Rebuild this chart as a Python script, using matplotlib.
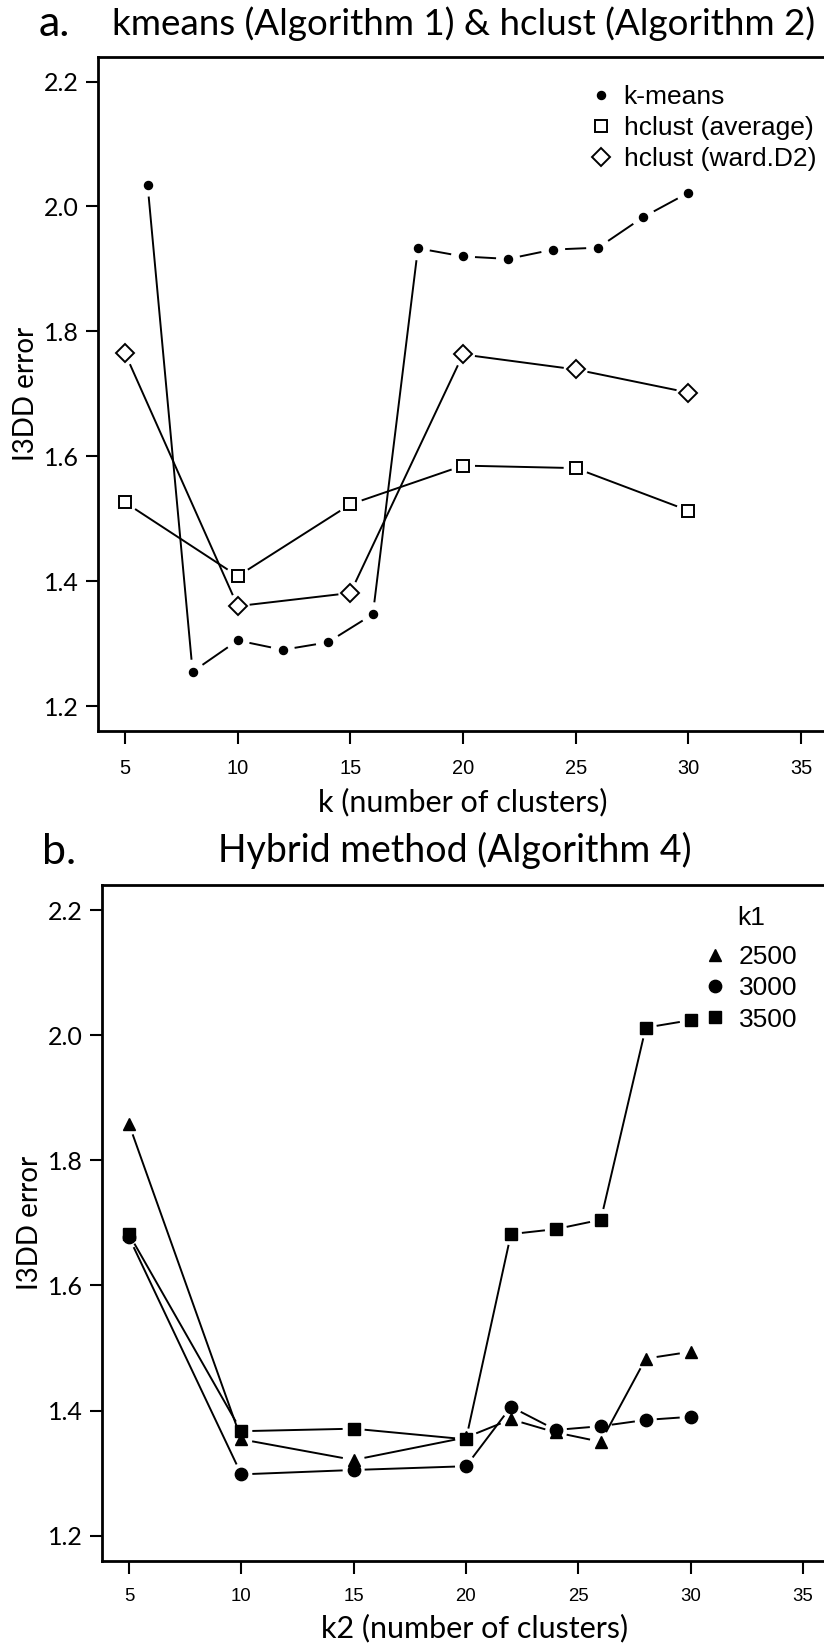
import numpy as np
import matplotlib
matplotlib.use("Agg")
import matplotlib.pyplot as plt
from matplotlib.lines import Line2D

# panel a: kmeans & hclust
k_kmeans = [6, 8, 10, 12, 14, 16, 18, 20, 22, 24, 26, 28, 30]
err_kmeans = [2.035, 1.255, 1.305, 1.290, 1.302, 1.347, 1.933, 1.920, 1.916, 1.931, 1.934, 1.983, 2.022]
k_hclust = [5, 10, 15, 20, 25, 30]
err_average = [1.526, 1.408, 1.523, 1.585, 1.581, 1.513]
err_ward = [1.765, 1.360, 1.381, 1.763, 1.739, 1.702]

# panel b: hybrid method
k2 = [5, 10, 15, 20, 22, 24, 26, 28, 30]
err_2500 = [1.858, 1.354, 1.321, 1.357, 1.386, 1.365, 1.350, 1.483, 1.494]
err_3000 = [1.677, 1.298, 1.305, 1.311, 1.406, 1.369, 1.375, 1.385, 1.390]
err_3500 = [1.682, 1.367, 1.371, 1.354, 1.682, 1.690, 1.705, 2.012, 2.024]

xticks = [5, 10, 15, 20, 25, 30, 35]
yticks = [1.2, 1.4, 1.6, 1.8, 2.0, 2.2]

W, H = 824, 1644
fig = plt.figure(figsize=(W / 100, H / 100), dpi=100)

LBL = "Lato"
ARIAL = "Liberation Sans"


def type_b(ax, x, y, gap, **kw):
    # R-style type="b": line segments broken around each point
    pts = ax.transData.transform(np.column_stack([x, y]))
    inv = ax.transData.inverted()
    for p0, p1 in zip(pts[:-1], pts[1:]):
        d = p1 - p0
        L = np.hypot(*d)
        if L <= 2 * gap:
            continue
        u = d / L
        seg = inv.transform(np.array([p0 + u * gap, p1 - u * gap]))
        ax.plot(seg[:, 0], seg[:, 1], color="black", lw=1.4, solid_capstyle="butt", **kw)


def setup(ax, xlabel, xtick_size, xlab_y, xlab_x=0.5):
    ax.set_xlim(3.8, 36.2)
    ax.set_ylim(1.16, 2.24)
    ax.set_xticks(xticks)
    ax.set_yticks(yticks)
    ax.set_yticklabels([f"{v:.1f}" for v in yticks])
    ax.spines["right"].set_visible(False)
    for s in ["left", "bottom", "top"]:
        ax.spines[s].set_linewidth(2.0)
    ax.tick_params(axis="both", direction="out", length=9, width=1.5)
    ax.tick_params(axis="y", labelsize=18, pad=5, labelfontfamily=LBL)
    ax.tick_params(axis="x", labelsize=xtick_size, pad=11, labelfontfamily=ARIAL)
    ax.set_ylabel("I3DD error", fontsize=20, family=LBL, va="center")
    ax.yaxis.set_label_coords(-0.099, 0.5)
    ax.set_xlabel(xlabel, fontsize=22, family=LBL, va="center")
    ax.xaxis.set_label_coords(xlab_x, xlab_y)


leg_font = {"family": ARIAL, "size": 19}

# ---- panel a ----
ax1 = fig.add_axes([98 / W, 1 - 731 / H, 730 / W, 674.4 / H])
setup(ax1, "k (number of clusters)", 14.4, -0.105)
type_b(ax1, k_kmeans, err_kmeans, 12)
type_b(ax1, k_hclust, err_average, 12)
type_b(ax1, k_hclust, err_ward, 12)
ax1.plot(k_kmeans, err_kmeans, ls="none", marker="o", ms=5.8, color="black")
ax1.plot(k_hclust, err_average, ls="none", marker="s", ms=9.2, mfc="white", mec="black", mew=1.4)
ax1.plot(k_hclust, err_ward, ls="none", marker="D", ms=9.3, mfc="white", mec="black", mew=1.4)
h_a = [
    Line2D([], [], ls="none", marker="o", ms=5.8, color="black"),
    Line2D([], [], ls="none", marker="s", ms=9.2, mfc="white", mec="black", mew=1.4),
    Line2D([], [], ls="none", marker="D", ms=9.3, mfc="white", mec="black", mew=1.4),
]
ax1.legend(h_a, ["k-means", "hclust (average)", "hclust (ward.D2)"], loc="upper left",
           bbox_to_anchor=(0.675, 0.958), frameon=False, borderpad=0, borderaxespad=0,
           handlelength=0.8, handletextpad=0.45, labelspacing=0.27, prop=leg_font)

fig.text(39 / W, 1 - 24 / H, "a.", fontsize=31, family=LBL, ha="left", va="center")
fig.text(464 / W, 1 - 24 / H, "kmeans (Algorithm 1) & hclust (Algorithm 2)",
         fontsize=26.5, family=LBL, ha="center", va="center")

# ---- panel b ----
ax2 = fig.add_axes([102 / W, 1 - 1560.7 / H, 728 / W, 675.7 / H])
setup(ax2, "k2 (number of clusters)", 13.4, -0.1, 0.512)
type_b(ax2, k2, err_2500, 11)
type_b(ax2, k2, err_3000, 11)
type_b(ax2, k2, err_3500, 11)
ax2.plot(k2, err_2500, ls="none", marker="^", ms=9, color="black")
ax2.plot(k2, err_3000, ls="none", marker="o", ms=8.9, color="black")
ax2.plot(k2, err_3500, ls="none", marker="s", ms=8, color="black")
h_b = [
    Line2D([], [], ls="none", marker="^", ms=9, color="black"),
    Line2D([], [], ls="none", marker="o", ms=8.9, color="black"),
    Line2D([], [], ls="none", marker="s", ms=8, color="black"),
]
leg_b = ax2.legend(h_b, ["2500", "3000", "3500"], title="k1", loc="upper left",
                   bbox_to_anchor=(0.828, 0.969), frameon=False, borderpad=0, borderaxespad=0,
                   handlelength=0.8, handletextpad=0.5, labelspacing=0.28, prop=leg_font,
                   title_fontproperties=leg_font)
leg_b._legend_box.sep = 10.8  # extra room between "k1" and the entries

fig.text(42 / W, 1 - 852 / H, "b.", fontsize=31, family=LBL, ha="left", va="center")
fig.text(455 / W, 1 - 850 / H, "Hybrid method (Algorithm 4)",
         fontsize=27, family=LBL, ha="center", va="center")

fig.savefig("out.png", dpi=100)
